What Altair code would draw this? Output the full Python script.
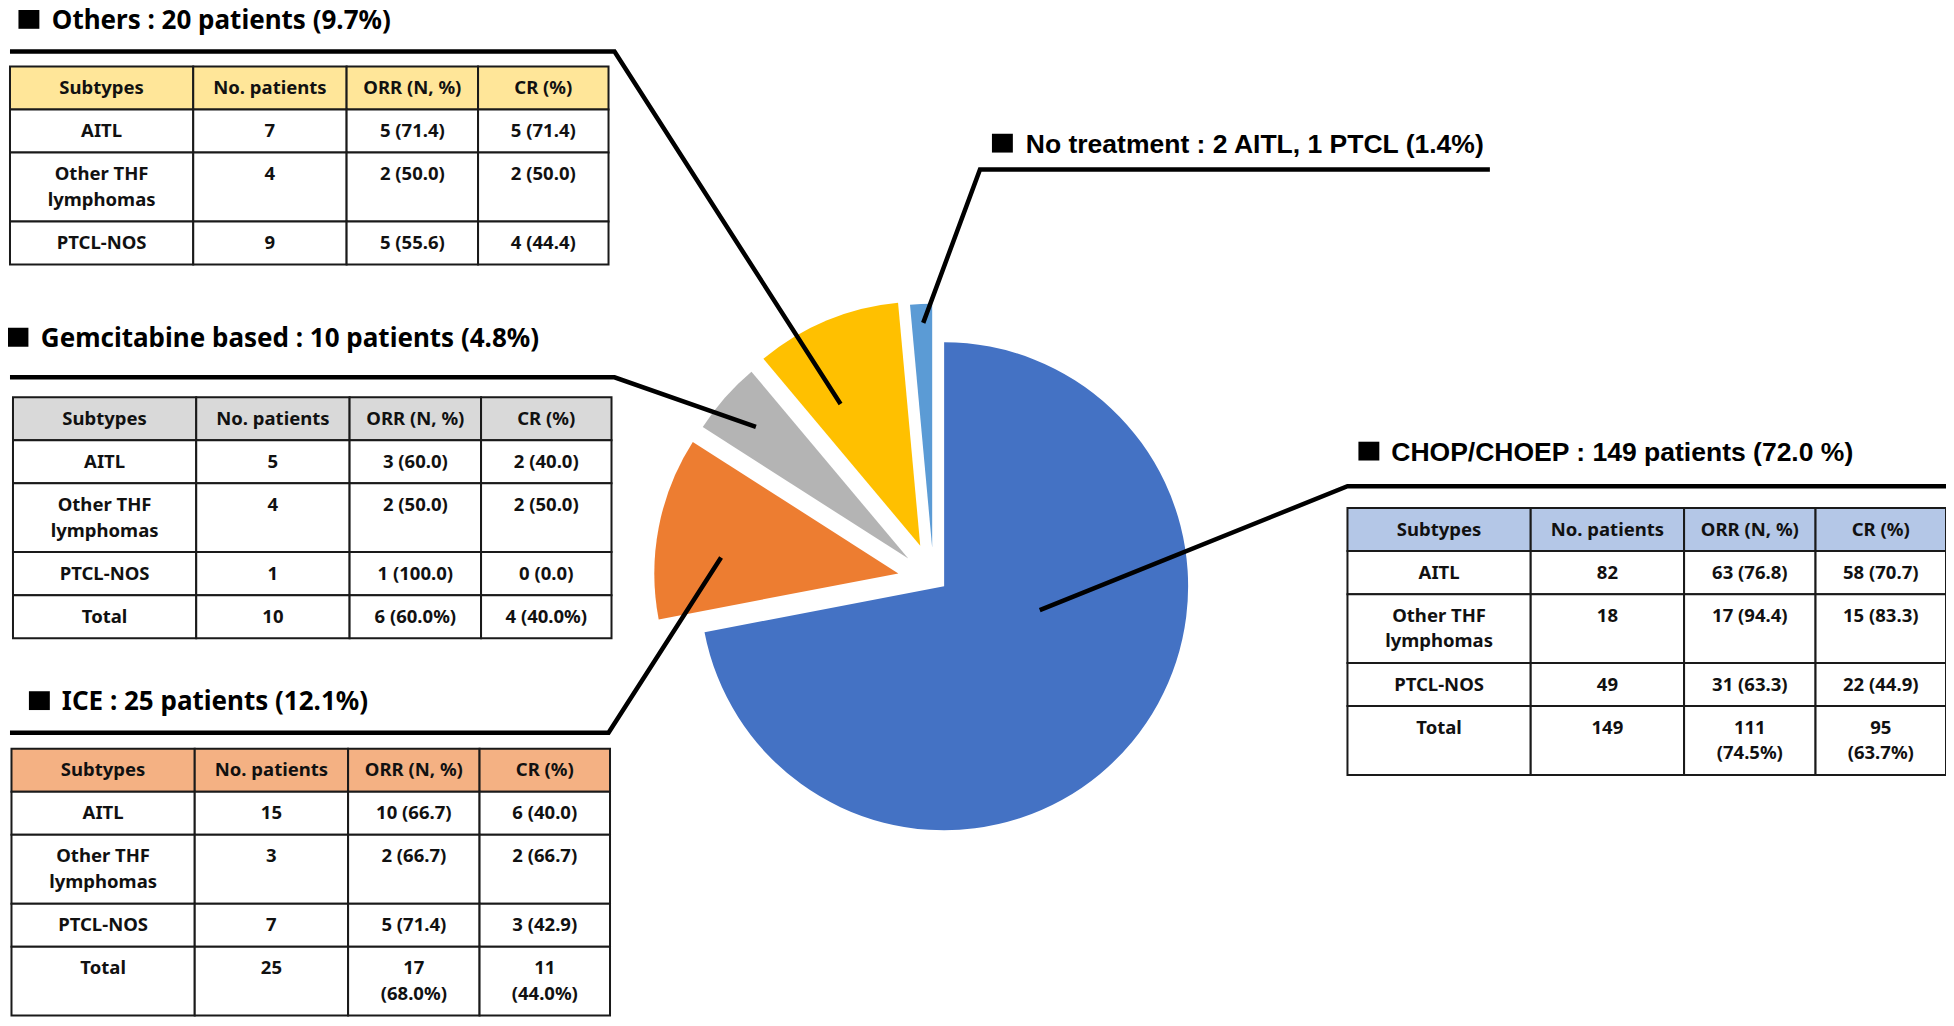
import math
import altair as alt
import pandas as pd

# ------------------------------------------------------------------ data
regimens = ["CHOP/CHOEP", "ICE", "Gemcitabine based", "Others", "No treatment"]
patients = [149, 25, 10, 20, 3]
slice_colors = ["#4472C4", "#ED7D31", "#B4B4B4", "#FFC000", "#5B9BD5"]

title_texts = [
    "CHOP/CHOEP : 149 patients (72.0 %)",
    "ICE : 25 patients (12.1%)",
    "Gemcitabine based : 10 patients (4.8%)",
    "Others : 20 patients (9.7%)",
    "No treatment : 2 AITL, 1 PTCL (1.4%)",
]

header = ["Subtypes", "No. patients", "ORR (N, %)", "CR (%)"]
subtypes = ["AITL", "Other THF\nlymphomas", "PTCL-NOS", "Total"]

chop_n = ["82", "18", "49", "149"]
chop_orr = ["63 (76.8)", "17 (94.4)", "31 (63.3)", "111\n(74.5%)"]
chop_cr = ["58 (70.7)", "15 (83.3)", "22 (44.9)", "95\n(63.7%)"]

ice_n = ["15", "3", "7", "25"]
ice_orr = ["10 (66.7)", "2 (66.7)", "5 (71.4)", "17\n(68.0%)"]
ice_cr = ["6 (40.0)", "2 (66.7)", "3 (42.9)", "11\n(44.0%)"]

gem_n = ["5", "4", "1", "10"]
gem_orr = ["3 (60.0)", "2 (50.0)", "1 (100.0)", "6 (60.0%)"]
gem_cr = ["2 (40.0)", "2 (50.0)", "0 (0.0)", "4 (40.0%)"]

others_n = ["7", "4", "9"]
others_orr = ["5 (71.4)", "2 (50.0)", "5 (55.6)"]
others_cr = ["5 (71.4)", "2 (50.0)", "4 (44.4)"]

header_colors = {"CHOP/CHOEP": "#B4C7E7", "ICE": "#F4B183",
                 "Gemcitabine based": "#D9D9D9", "Others": "#FFE699"}

# ------------------------------------------------------------------ layout
W, H = 1938, 1010
XDOM = [4, 1950]
YDOM = [4, 1024]
K = W / (XDOM[1] - XDOM[0])

PIE_CENTER = (944, 588)
PIE_R = 245
EXPLODE = {"CHOP/CHOEP": (0, 0), "ICE": (-46, -13), "Gemcitabine based": (-36, -28),
           "Others": (-24, -41), "No treatment": (-12, -39)}

TABLE_POS = {"Others": (6, 63), "Gemcitabine based": (9, 397),
             "ICE": (7.5, 752), "CHOP/CHOEP": (1349, 509)}
COL_W = [184, 154, 132, 131]
ROW_H = 43.5
LINE_STEP = 26
TEXT_PAD = 21.75

TITLE_POS = {"CHOP/CHOEP": (1393, 461), "ICE": (58, 713), "Gemcitabine based": (37, 346),
             "Others": (48, 25), "No treatment": (1026, 150)}
SQUARE_POS = {"CHOP/CHOEP": (1360, 461), "ICE": (25, 713), "Gemcitabine based": (3.5, 346),
              "Others": (14.5, 25), "No treatment": (992, 150)}
SQ_W, SQ_H = 21, 19

LEADERS = {
    "Others": [(6, 48), (613, 48), (840, 404)],
    "Gemcitabine based": [(6, 377), (613, 377), (755, 427)],
    "ICE": [(6, 736), (607, 736), (720, 559)],
    "CHOP/CHOEP": [(1950, 487), (1349, 487), (1040, 612)],
    "No treatment": [(1492, 167), (980, 167), (923, 322)],
}

xs = alt.Scale(domain=XDOM, zero=False, nice=False)
ys = alt.Scale(domain=YDOM, zero=False, nice=False, reverse=True)

# ------------------------------------------------------------------ pie
total = sum(patients)
rows = []
acc = 0
for cat, v in zip(regimens, patients):
    dx, dy = EXPLODE[cat]
    rows.append(dict(category=cat, value=v, t0=acc, t1=acc + v,
                     cx=PIE_CENTER[0] + dx, cy=PIE_CENTER[1] + dy))
    acc += v
pie_df = pd.DataFrame(rows)

pie = alt.Chart(pie_df).mark_arc(outerRadius=PIE_R * K, innerRadius=0).encode(
    x=alt.X("cx:Q", scale=xs, axis=None),
    y=alt.Y("cy:Q", scale=ys, axis=None),
    theta=alt.Theta("t0:Q", stack=None,
                    scale=alt.Scale(domain=[0, total], range=[0, 2 * math.pi])),
    theta2="t1:Q",
    color=alt.Color("category:N", scale=alt.Scale(domain=regimens, range=slice_colors),
                    legend=None),
)

# ------------------------------------------------------------------ leader lines
lrows = []
for name, pts in LEADERS.items():
    for i, (px, py) in enumerate(pts):
        lrows.append(dict(lid=name, seq=i, lx=px, ly=py))
lead_df = pd.DataFrame(lrows)
leaders = alt.Chart(lead_df).mark_line(
    color="black", strokeWidth=4.5, strokeCap="butt", strokeJoin="miter"
).encode(
    x=alt.X("lx:Q", scale=xs, axis=None),
    y=alt.Y("ly:Q", scale=ys, axis=None),
    detail="lid:N",
    order="seq:Q",
)

# ------------------------------------------------------------------ tables
tables = [
    ("Others", subtypes[:3], others_n, others_orr, others_cr),
    ("Gemcitabine based", subtypes, gem_n, gem_orr, gem_cr),
    ("ICE", subtypes, ice_n, ice_orr, ice_cr),
    ("CHOP/CHOEP", subtypes, chop_n, chop_orr, chop_cr),
]
cells, texts = [], []
for name, sub, n, orr, cr in tables:
    x_left, y_top = TABLE_POS[name]
    edges = [x_left]
    for w in COL_W:
        edges.append(edges[-1] + w)
    body = [header] + [list(r) for r in zip(sub, n, orr, cr)]
    y = y_top
    for ri, row in enumerate(body):
        nlines = max(len(s.split("\n")) for s in row)
        h = ROW_H + LINE_STEP * (nlines - 1)
        for ci, s in enumerate(row):
            cells.append(dict(x0=edges[ci], x1=edges[ci + 1], y0=y, y1=y + h,
                              fill=header_colors[name] if ri == 0 else "white"))
            for li, line in enumerate(s.split("\n")):
                texts.append(dict(tx=(edges[ci] + edges[ci + 1]) / 2,
                                  ty=y + TEXT_PAD + LINE_STEP * li, label=line))
        y += h
cell_df = pd.DataFrame(cells)
text_df = pd.DataFrame(texts)

cell_layer = alt.Chart(cell_df).mark_rect(stroke="#1a1a1a", strokeWidth=2).encode(
    x=alt.X("x0:Q", scale=xs, axis=None), x2="x1:Q",
    y=alt.Y("y0:Q", scale=ys, axis=None), y2="y1:Q",
    fill=alt.Fill("fill:N", scale=None),
)
text_layer = alt.Chart(text_df).mark_text(
    font="Noto Sans", fontWeight="bold", fontSize=18.5, color="#111111",
    align="center", baseline="middle",
).encode(
    x=alt.X("tx:Q", scale=xs, axis=None),
    y=alt.Y("ty:Q", scale=ys, axis=None),
    text="label:N",
)

# ------------------------------------------------------------------ titles
sq_df = pd.DataFrame([dict(sx0=SQUARE_POS[c][0], sx1=SQUARE_POS[c][0] + SQ_W,
                           sy0=SQUARE_POS[c][1] - SQ_H, sy1=SQUARE_POS[c][1])
                      for c in regimens])
squares = alt.Chart(sq_df).mark_rect(color="black").encode(
    x=alt.X("sx0:Q", scale=xs, axis=None), x2="sx1:Q",
    y=alt.Y("sy0:Q", scale=ys, axis=None), y2="sy1:Q",
)

title_df = pd.DataFrame([dict(category=c, label=t, tx=TITLE_POS[c][0], ty=TITLE_POS[c][1])
                         for c, t in zip(regimens, title_texts)])
arial_set = ["CHOP/CHOEP", "No treatment"]
titles_a = alt.Chart(title_df[title_df.category.isin(arial_set)]).mark_text(
    font="Liberation Sans", fontWeight="bold", fontSize=26.5, color="black",
    align="left", baseline="alphabetic",
).encode(x=alt.X("tx:Q", scale=xs, axis=None), y=alt.Y("ty:Q", scale=ys, axis=None),
         text="label:N")
titles_b = alt.Chart(title_df[~title_df.category.isin(arial_set)]).mark_text(
    font="Noto Sans", fontWeight="bold", fontSize=26, color="black",
    align="left", baseline="alphabetic",
).encode(x=alt.X("tx:Q", scale=xs, axis=None), y=alt.Y("ty:Q", scale=ys, axis=None),
         text="label:N")

chart = alt.layer(pie, leaders, cell_layer, text_layer, squares, titles_a, titles_b).properties(
    width=W, height=H, padding=0, autosize=alt.AutoSizeParams(type="none"),
    background="white",
).configure_view(stroke=None)

chart.save("out.html", embed_options={"renderer": "svg", "actions": False})
